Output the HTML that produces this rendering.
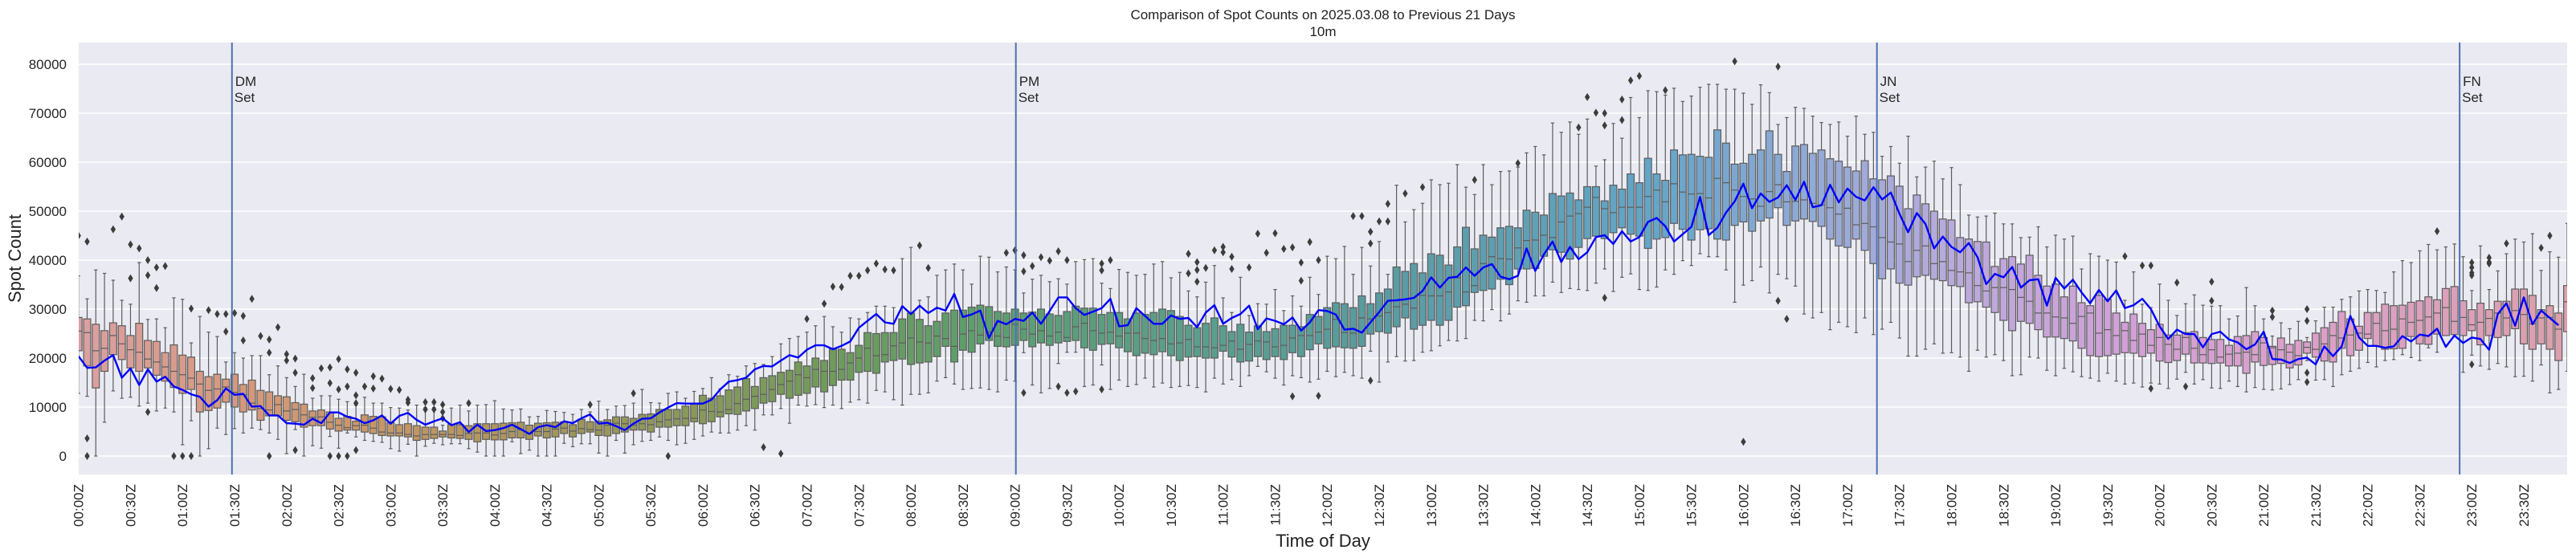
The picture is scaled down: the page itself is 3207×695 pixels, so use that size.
<!DOCTYPE html>
<html><head><meta charset="utf-8"><style>
html,body{margin:0;padding:0;background:#fff;}
svg{display:block;font-family:"Liberation Sans","DejaVu Sans",sans-serif;}
</style></head><body>
<svg id="chart" width="3207" height="695" viewBox="0 0 3207 695" xmlns="http://www.w3.org/2000/svg">
<defs><clipPath id="pc"><rect x="98" y="53" width="3098" height="538"/></clipPath></defs>
<text x="1647" y="24" font-size="17" text-anchor="middle" fill="#222">Comparison of Spot Counts on 2025.03.08 to Previous 21 Days</text>
<text x="1647" y="45" font-size="17" text-anchor="middle" fill="#222">10m</text>
<rect x="98" y="53" width="3098" height="538" fill="#eaeaf2"/>
<g id="grid"></g>
<g id="yticks"></g>
<g id="xticks"></g>
<g id="boxes" clip-path="url(#pc)"></g>
<g id="vlines"></g>
<g id="meanline" clip-path="url(#pc)"></g>
<text transform="translate(26,322) rotate(-90)" font-size="22" text-anchor="middle" fill="#222">Spot Count</text>
<text x="1647" y="681" font-size="22" text-anchor="middle" fill="#222">Time of Day</text>
</svg>
<script>
const med=[25.5,25.2,21.5,22,24.6,22.9,21.7,21.2,19.8,19.2,18.2,17.3,16.6,15.9,14.7,13.4,13.7,14.1,13,12.5,10.8,9.7,9.4,10.5,9.2,9.5,8.4,7.9,8,6.9,6.3,5.8,6.2,6.3,5.7,4.9,4.7,4.7,4.4,4.1,4.4,4.4,4.4,4.4,4.2,4.6,4.7,4.7,
4.3,4.6,5,5.4,4.6,5,5,5.5,5.7,5.1,5.6,5.4,5.3,6.3,6.7,6.6,6.3,6.6,6.4,7,7.4,7.6,7.7,7.7,9.4,9.1,9,9.5,10.7,11.6,12.2,12.6,13.6,14.6,15.3,16.6,16,17.7,17.3,17.3,17.7,19,20,22,20.5,20.7,22.5,23.1,
24.1,23.3,23.1,24.5,24,22.4,24.9,25.6,24.7,25.3,24.5,24.2,26.9,25.9,24.9,25.6,24.5,25.3,24.2,26.4,27.1,25.6,25.1,25.3,24.5,25.1,25.1,24,23.6,24,22.9,23.1,23.8,22.3,22.3,22.1,22.6,23.5,21.8,22.8,23.5,23.3,22.3,22.6,24.1,24.6,24.6,25.3,
25.9,27.9,25.2,25.1,28.2,28,28.6,29.3,30.5,31,30.2,32.8,32.7,32.7,33.5,36.4,33.5,34.8,39.3,40.7,40.3,40.2,42.5,44,44.1,45.1,44.6,47.8,49,49.5,50.8,52.8,50.5,49.7,50.8,50.8,50.8,53,54.3,51.9,55.6,53.9,53.5,53.6,52.7,56.7,55.8,54.3,
53,52.5,51,54,55.4,51.9,52,52.3,51.6,51.3,50.7,49.4,50.6,47.2,47.5,46.8,44.6,43.7,43.3,39.7,42,42.9,39.3,39.7,37.9,37.6,37.4,34.8,33.7,34.4,34.4,34,32.4,31.6,29.2,29.2,28.4,28.2,27.1,28.5,29.2,25.1,25.8,24.6,25.6,23.6,24.9,
22.6,24.2,22.8,21.8,24.2,22,20.7,21.7,20.2,20.8,21,21.2,20.7,23.1,22.1,21.7,21.2,20.5,22.2,21.8,22.9,24.6,24.1,24.7,25.1,24.9,27.1,25.6,25.9,28,27.3,27.7,28.4,29.2,30.3,27.5,28.3,26.8,27.3,28.1,29.2,28.2,29.7,28.9,27,28.2,28.3,25.9,31.5];
const q1=[21.5,18.4,13.9,17.3,20.7,19.7,18,17.3,18,16.5,15.3,14,12.8,13.6,9,9.3,9.8,11,10,9,9.4,7.3,8.2,8.2,7.3,7,5.9,6.2,6.2,5.5,5.1,5.3,5.3,4.9,4.6,4.2,4.1,4.1,3.9,3.2,3.4,3.6,3.9,3.7,3.6,3.4,2.9,3.4,
3.3,3.3,3.7,3.7,3.4,4.1,3.7,3.9,4.6,3.9,4.6,4.9,4.2,4.1,4.6,4.9,5.3,5.3,4.9,5.9,5.9,6.2,6.2,7,6.6,7,8,8.6,8.5,9.2,9.7,10.8,11.1,12.6,11.8,12.4,12.8,14.1,13.1,14.4,15.5,15.5,17.1,17.3,16.9,19.2,19.5,19.8,
18.7,19,19.2,20.3,22.4,19.2,21.6,21.2,22.9,23.6,22.4,22.3,22.6,23.6,22.3,23.1,22.6,23.1,23.4,23.6,22.1,21.6,22.8,22.9,22.1,21.3,20.5,21,20.7,21.3,20.5,19.5,20.2,20.3,20,20,21.4,20.2,19.2,19.4,20.3,19.7,20.3,19.7,21.1,20.3,21.7,22.9,
22,22.3,22.1,22,22.4,24.9,25.4,25.1,26.4,28.2,25.9,26.7,27.7,26.7,27.7,30.4,30.7,33.4,33.8,34.1,36.1,35,38.2,38.2,38.3,40.8,42.1,41.6,40.2,42.6,44.4,44.9,44.4,45.6,46.6,45.3,44.9,42.4,44.3,44.6,47.5,46.3,44.1,46.2,46.4,44.3,44.1,47.1,
47.8,45.9,48,48.6,50.7,47.1,48,48.4,47.9,46.9,44.3,42.9,42.6,44.3,42,39.3,36.2,38.2,35.3,34.9,36.6,36.9,36.1,35.8,34.8,34.6,31.3,31.5,30.4,29.3,27.7,25.6,27.5,27.1,25.8,24.3,24.3,24,23.5,22,20.5,20.3,20.5,20.8,21.1,21,20.3,
21,19.4,19.1,19.5,20.8,19,19,18.9,19,18.4,18.4,16.9,19.2,18.5,18.7,18.9,18,18.6,21,20.2,19.4,19.2,22,20.5,21.6,24,22.5,21.8,21.9,22,24.4,22.9,22.8,24.9,24.6,24.8,24.6,25.6,22.7,24.6,24.2,24.6,26,22.9,21.8,22.9,21.8,19.5,25.4];
const q3=[28.3,28,26.9,25.6,27.2,26.6,24.6,27.1,23.6,23.4,21.1,22.7,20.6,20.2,17.3,16.2,16.7,15.7,16.7,14.6,15.5,13.4,13.1,12.3,12.1,10.9,10.6,9.2,9.4,9,7.7,8.1,7.1,8.4,8.1,8,6.8,6.4,6.6,6.2,5.9,5.9,5.1,6.4,6.4,6.2,6.6,6.6,
6.6,6.7,6.8,6.9,6.3,6.7,6.8,6.9,7,6.4,7.5,7,7.1,7.4,8,8,7.7,8.5,8.6,9.5,9.5,9.5,10.2,10.8,12.4,11.8,12.3,13.5,14.1,15.8,14.2,16,16.4,17.1,17.5,19.2,18.4,20,19.5,21.8,21.8,21.1,22.6,25.2,25,25.2,25.2,28,
29.2,27.9,26.6,27.5,29.2,29.8,29.8,30.4,30.8,30.5,29.5,29.2,30,29.2,29.4,30,29,28.7,29.5,30.6,30.2,30.2,28.9,29.3,29.3,28,29.2,28.9,29.3,30,29.7,28.5,26.7,26.2,27.1,28.2,26.6,25.4,26.9,25.3,26.6,25.4,26,26.7,26.7,26.4,28.9,28.5,
30.3,31.3,31.1,30.3,32.7,31.1,33.3,34.1,38.6,37.7,39.3,37.4,41.3,41,39,42.7,46.7,42.3,45.1,44.7,46.6,46.9,46.6,50.2,49.8,49.2,53.6,53.1,53.7,52.3,55,55,52.1,55.3,54.5,57.6,55.8,60.8,57.6,56.3,62.5,61.5,61.6,61.2,61,66.6,63.9,59.6,
59.8,61.6,62.5,66.4,61.6,58.1,63.3,63.6,61.8,62.5,60.7,60.2,59,58.2,60.3,56.6,56.4,57.2,55.1,50.5,53.3,51.5,50,48.4,48.2,44.6,44.3,43.8,43.7,38.7,40.3,40.7,39.2,41,36.9,34.7,35.1,32.5,34.7,31.3,30.7,32.8,32,29.2,27.3,29,27.1,
25.8,26.9,24.7,24.7,25.2,25.4,24.2,23.8,23.8,22.6,24.4,24.6,25.4,24.2,22.4,24.1,22.8,23.6,23.3,25.1,26.2,27.3,29.5,28,26.5,29.3,29.3,31,30.7,30.8,31.4,31.7,32.5,31.9,34.2,34.6,31.7,29.9,31.2,29.9,31.6,31.6,34.1,34.1,32.8,29.9,30.7,29.2,34.8];
const whiskLo=[12.8,12.2,0,6.9,13.3,11.8,12,10.2,10.8,9.2,9.8,9,2.3,7.2,0,1.5,5.7,4.4,5.6,4.7,5.7,5.4,4.7,3.4,0.5,5.4,0,2.1,1.6,4,1.6,4.7,3.9,3.2,3,2.8,1.5,1,2.4,0,2,2.6,2.3,2.5,2.5,1.5,0.8,0,
0,0,2.9,0.5,1.2,0,0,0,2.6,1.9,2.5,2.5,0.6,0,3.2,0.6,2.3,3,3.2,3.9,3.2,2.3,2.6,3.4,4.1,4.9,4.7,4.7,5.3,6.2,5.3,8.4,8.4,9.7,6.7,10.4,10.2,10.5,9.9,10.4,9.7,11,11.5,10.8,13.4,13.1,11.5,10.4,
12.6,12.6,12.9,15.3,16,14.7,13.6,13.8,13.9,13.6,13.1,15.5,15.3,21.1,14.5,12.9,13.8,18.9,21.2,21.2,14.2,14.5,18.6,13.6,15.5,14.2,14.6,15.9,14.1,14.9,14,14.2,14.4,14,13.1,15.9,14.7,15.6,14.2,16.4,18.3,17.2,15.9,14.5,16.4,16,15.1,15.7,
17.3,16.2,17.1,16.4,15.9,21.4,15.1,19.2,20.3,19.4,19.5,21.2,21.5,22.5,23.6,23.5,24,27.7,27.6,29.9,27.6,29,31.7,31.4,32.7,32.7,35.5,33.4,34.2,34,33.8,35.3,38.2,33.6,36.5,37.2,34,33.8,34.5,38,37.1,39.9,38.9,41.3,40.7,40.7,38,31.4,
34.9,35.8,38.6,33.3,37.1,36.2,34.7,29,28.2,29.3,25.8,27.3,26.4,25.2,28.2,24.8,25.9,27.3,24.1,20.4,20.4,21.8,22.9,21,21.1,20.2,17.3,21.6,20.2,20.7,19.5,16.4,16.6,20.2,20,17.5,16.4,17.9,17.2,16.2,15.9,15.3,16.9,15.3,14.7,14.9,14.1,
14.9,14.7,13.8,15.7,17.1,14.7,15.6,13.9,13.8,15.3,14.2,13.1,14,13.6,13.5,13.7,14.6,15.6,19.5,15.5,15.6,14.2,16.6,17.3,17.9,19.1,18.2,19.5,19.7,20.7,20.1,19.5,22.1,21.2,24.6,24.8,17.1,20.6,18.4,17.7,18.9,18.2,16.2,16.3,15.3,18.6,12.9,13.6,17.3];
const whiskHi=[36.8,32.1,38,37.3,35.9,31.8,31,39.5,27.9,28,26.2,32.3,32,23.1,28.5,25.3,24.4,19.2,21.1,20,20.5,20.5,16.6,18.4,16,14.2,16.7,11.8,12.3,12.3,11.6,11.1,10.4,12,10.8,10.8,9.9,9.8,9.4,10.4,9.9,9.9,6.3,9.8,10.4,9.2,10.4,10.5,
11.3,9.6,9.4,9.6,8,8.1,9.3,9.1,8.9,8.5,9.5,9,11.2,9.5,10.2,10.3,10.8,13.6,10.9,10.8,12.8,13.1,11.8,13.2,13.8,16,13.7,16.6,16.3,18.4,18.9,18.7,20.3,22.9,24,24.4,25.3,26.6,28.5,26.4,25.3,28.2,28,29.3,30.6,30.6,30.3,40.3,
42.6,31.8,32.5,36.9,38,39.2,38,35.1,40.8,40.6,37.6,38.6,38,33.3,36.1,36.9,35.6,36.2,35.1,39.7,40.1,40.3,35.3,34.2,38.1,37.5,36.9,37.1,39.2,39.7,36.4,37.5,33.7,32.5,35.5,38.9,32.3,29.3,36.5,28.7,31.1,31,34,29.7,32.7,30.6,36.5,33,
40.8,40.3,42.8,37.1,42.6,38.8,43.8,37.1,55.3,47.8,50.3,51.6,56.4,55.4,55.7,59.5,54.9,53.4,59.5,55.4,58.1,58.2,59,61.9,63.2,61.5,68,66.1,68.2,65.7,68.8,59.2,60.5,67.9,64.9,73.2,69.1,74.6,74.4,73.7,75.1,72.4,73.5,75.3,75.9,75.9,74.9,74.9,
74.1,71.8,75.8,74.2,67.7,69.1,71.2,71,69.4,68.1,67.7,68.2,65.3,69.4,65.7,66.1,61.2,63.2,59.8,65.3,57,59,60.2,56.6,58.9,55.4,49.2,48.8,49,49.6,47.4,47.4,44.6,44.7,46.8,42.7,45.1,44.3,44.9,38.2,41.3,40.8,40,39.6,31.8,37.6,31,
30.3,35.1,31.8,28.7,31.1,32.9,30.8,30.6,30.7,28,28.6,34.4,30.7,28,24.5,27.2,26,27.5,24.2,27.6,30.4,30.4,32,32.5,33.7,34,33.8,33.4,37.6,39.9,39.5,41.9,43.2,42.1,42.7,43.3,40.7,33.8,42.9,34,37.8,41.3,44.3,43.7,45.4,37.9,41.7,40.6,47.5];
const todayVals=[20.4,18,18.1,19.5,20.6,16,17.9,14.5,17.7,15.2,16.2,14.2,13.5,12.6,12.1,10.1,11.4,13.8,12.5,12.7,10.1,10.2,8.3,8.3,6.7,6.6,6.4,7.6,6.7,8.9,8.9,8,7.6,6.7,7.3,8.3,6.6,8.2,8.8,7.4,6.4,7.1,7.7,6.3,6.9,4.9,6.4,5.1,
5.3,5.7,6.4,5.5,4.5,5.9,6.3,5.9,7.1,6.7,7.7,8.5,6.6,6.8,6.1,5.3,6.6,7.6,7.7,8.9,9.9,10.8,10.7,10.7,10.7,11.5,13.6,15.2,15.5,16,17.7,18.4,18.3,19.5,20.6,20.1,21.7,22.6,22.6,21.8,22.5,23.4,26.2,27.6,29,27.3,27,30.6,
29,30.7,29.2,30.3,29.7,33.1,28.4,28.9,29.7,24.1,27.6,26.9,28,27.6,29.3,27,29.6,32.4,32.4,30.2,28.8,29.5,30.2,32.1,26.5,26.7,30.2,28.6,27,27,28.7,28,28.2,26.3,29.3,30.8,27,28.2,29,30.7,25.9,28.1,27.6,26.9,28.3,25.6,27.3,29.8,
29.6,28.9,25.8,26,25.2,27.3,29.4,31.7,31.8,32,32.3,33.7,36.5,34.4,36.4,36.6,38.5,36.8,38.5,39.2,36.6,36.1,36.8,42.4,37.8,41.2,43.8,39.6,42.7,40.2,41.6,44.7,45.1,43.3,45.9,43.8,44.7,47.8,48.6,46.9,43.8,45.3,46.8,52.9,45.1,46.6,49.7,52,
55.6,50.6,53.6,51.9,52.8,55.3,52.3,56,50.8,51.2,55.4,51.8,54.6,52.9,52.2,54.9,52.4,53.8,49.5,45.7,49.6,47.4,42.4,44.8,42.7,41.6,43.5,40.6,35.1,37.2,36.5,38.6,34.4,35.9,36.1,30.7,36.4,34.2,36,33.4,31.2,33.9,31.6,33.8,30.2,30.8,32.1,
30,26.5,23.9,25.8,24.9,24.9,22.2,24.9,25.4,23.8,23.2,21.8,22.8,25.4,19.8,19.7,19,19.8,20.1,18.7,22.4,20.4,22.4,28.6,24.2,22.5,22.5,22.1,22.4,24.5,23.4,24.8,24.5,26,22.3,24.6,23.1,24.2,23.9,21.7,29,31.2,26.6,32.4,26.9,29.7,28.2,26.7,null];
const outlierIdx=[0,1,1,1,4,5,6,6,7,8,8,8,9,9,10,11,12,13,13,15,16,17,17,18,19,19,20,21,22,22,22,23,24,24,25,25,25,27,27,28,29,29,29,30,30,30,31,31,31,32,32,32,32,33,34,34,35,36,37,38,38,40,40,41,41,42,42,42,45,
59,64,68,79,81,84,86,87,88,89,90,91,92,93,94,97,98,107,108,109,109,109,110,111,112,113,113,114,114,115,118,118,118,119,128,128,129,129,129,130,131,132,132,133,133,135,136,137,138,139,140,140,141,141,142,143,143,
147,148,149,149,149,150,151,151,153,155,161,166,173,174,175,176,176,176,178,178,179,180,183,191,192,196,196,197,
236,238,239,239,242,243,246,246,253,253,257,257,257,257,272,276,276,276,276,276,278,278,278,280,284,285];
const outlierVal=[45,43.8,3.6,0,46.3,48.9,43.2,36.3,42.4,40,36.9,9,38.5,34.3,38.8,0,0,30.1,0,29.8,29,29,25.4,29.2,28.6,23.6,32.1,24.5,23.8,21.1,0,26.3,20.8,19.5,19.9,17,1.2,15.9,13.9,17.9,18.1,14.9,0,19.8,13.6,0,17.7,14.2,0,17,12.4,10.8,1.2,14.2,16.3,13.8,15.8,13.7,13.5,11.5,10.9,11,9.5,11,9.5,10.5,9,7.7,10.8,
10.5,12.8,0,1.8,0.5,28,31.1,34.6,34.5,36.8,36.8,37.9,39.3,38.1,37.9,43,38.4,41.5,42,41,37.7,12.9,38.8,40.6,39.9,41.8,14.2,40,12.9,13.2,39.3,37.9,13.6,40,41.3,37.3,39.6,38,35.6,38.4,42,42.7,41.6,40.7,38.2,38.5,45.4,41.5,45.5,42.3,42.6,12.2,39.5,35.8,43.7,40,12.3,
49,49,45.8,43.4,15.4,47.9,51.5,47.9,53.6,54.9,56.4,59.8,67.1,73.3,70.1,70,67.5,32.3,72.8,68.6,76.7,77.6,74.7,80.6,2.9,79.5,31.7,28,
40.8,38.9,38.9,13.8,35.4,14.2,35.6,31.7,29.7,28.4,30,27.6,17,15.1,45.9,39.5,38.5,37.4,36.9,18.7,40.5,39.6,39.3,43.4,42.5,45];
const yTickVals=[0,10000,20000,30000,40000,50000,60000,70000,80000];
const xTickLabels=["00:00Z","00:30Z","01:00Z","01:30Z","02:00Z","02:30Z","03:00Z","03:30Z","04:00Z","04:30Z","05:00Z","05:30Z","06:00Z","06:30Z","07:00Z","07:30Z","08:00Z","08:30Z","09:00Z","09:30Z","10:00Z","10:30Z","11:00Z","11:30Z","12:00Z","12:30Z","13:00Z","13:30Z","14:00Z","14:30Z","15:00Z","15:30Z","16:00Z","16:30Z","17:00Z","17:30Z","18:00Z","18:30Z","19:00Z","19:30Z","20:00Z","20:30Z","21:00Z","21:30Z","22:00Z","22:30Z","23:00Z","23:30Z"];
const eventNames=["DM","PM","JN","FN"];
const eventSlots=[17.7,108.1,207.4,274.6];

const NS="http://www.w3.org/2000/svg";
const N=288;
function xs(i){return 97.7+i*(3196-97.7)/(N-1);}
function ys(k){return 568-k*6.1;}
function mk(tag,attrs,parent){const e=document.createElementNS(NS,tag);for(const k in attrs)e.setAttribute(k,attrs[k]);parent.appendChild(e);return e;}
const anchors=[[0,[219,160,163]],[0.07,[213,152,122]],[0.13,[196,150,100]],[0.2,[158,150,90]],[0.3,[112,155,90]],[0.36,[92,158,110]],[0.45,[90,158,140]],[0.52,[90,155,160]],[0.63,[100,165,200]],[0.7,[150,170,215]],[0.75,[185,170,220]],[0.82,[210,160,215]],[0.9,[220,160,200]],[1,[219,160,170]]];
function col(t){for(let a=0;a<anchors.length-1;a++){const [t0,c0]=anchors[a],[t1,c1]=anchors[a+1];if(t<=t1){const f=(t-t0)/(t1-t0);return 'rgb('+c0.map((v,j)=>Math.round(v+(c1[j]-v)*f)).join(',')+')';}}return 'rgb(219,160,170)';}

const grid=document.getElementById('grid'),yt=document.getElementById('yticks'),xt=document.getElementById('xticks');
yTickVals.forEach(v=>{
  const y=ys(v/1000);
  const g=mk('line',{x1:98,x2:3196,y1:y,y2:y,stroke:'#fff','stroke-width':1.6},grid);
  
  
  const t=mk('text',{x:83,y:y+6,'font-size':17,'text-anchor':'end',fill:'#262626'},yt);
  t.textContent=String(v);
  
  
});
xTickLabels.forEach((lab,k)=>{
  const x=xs(k*6);
  const t=mk('text',{transform:'translate('+(x+6)+',603) rotate(-90)','font-size':17,'text-anchor':'end',fill:'#262626'},xt);
  t.textContent=lab;
  
  
});
const bx=document.getElementById('boxes');
const bw=8.8,cw=4.4,ec='#5c5c5c';
for(let i=0;i<N;i++){
  const x=xs(i);
  const g=mk('g',{},bx);
  
  
  mk('line',{x1:x,x2:x,y1:ys(q3[i]),y2:ys(whiskHi[i]),stroke:ec,'stroke-width':1.2},g);
  mk('line',{x1:x,x2:x,y1:ys(q1[i]),y2:ys(whiskLo[i]),stroke:ec,'stroke-width':1.2},g);
  mk('line',{x1:x-cw/2,x2:x+cw/2,y1:ys(whiskHi[i]),y2:ys(whiskHi[i]),stroke:ec,'stroke-width':1.2},g);
  mk('line',{x1:x-cw/2,x2:x+cw/2,y1:ys(whiskLo[i]),y2:ys(whiskLo[i]),stroke:ec,'stroke-width':1.2},g);
  mk('rect',{x:x-bw/2,y:ys(q3[i]),width:bw,height:Math.max(0.5,ys(q1[i])-ys(q3[i])),fill:col(i/N),stroke:ec,'stroke-width':1.2},g);
  mk('line',{x1:x-bw/2,x2:x+bw/2,y1:ys(med[i]),y2:ys(med[i]),stroke:ec,'stroke-width':1.2},g);
}
for(let k=0;k<outlierIdx.length;k++){
  const x=xs(outlierIdx[k]),y=ys(outlierVal[k]);
  const d=mk('path',{d:'M'+x+' '+(y-5)+'L'+(x+3.2)+' '+y+'L'+x+' '+(y+5)+'L'+(x-3.2)+' '+y+'Z',fill:'#3d3d3d'},bx);
  
  
}
const vl=document.getElementById('vlines');
eventSlots.forEach((s,k)=>{
  const x=xs(s);
  const l=mk('line',{x1:x,x2:x,y1:53,y2:591,stroke:'#4c72b0','stroke-width':2},vl);
  
  
  const t=mk('text',{x:x+4,y:107,'font-size':17,fill:'#262626'},vl);
  
  
  const a=mk('tspan',{x:x+4,y:107},t);a.textContent=eventNames[k];
  const b=mk('tspan',{x:x+3,y:127},t);b.textContent='Set';
});
let pts=[];
for(let i=0;i<N;i++){if(todayVals[i]!==null&&todayVals[i]!==undefined)pts.push(xs(i).toFixed(1)+','+ys(todayVals[i]).toFixed(1));}
const pl=mk('polyline',{points:pts.join(' '),fill:'none',stroke:'#0000ff','stroke-width':2.4,'stroke-linejoin':'round'},document.getElementById('meanline'));


</script>
</body></html>
